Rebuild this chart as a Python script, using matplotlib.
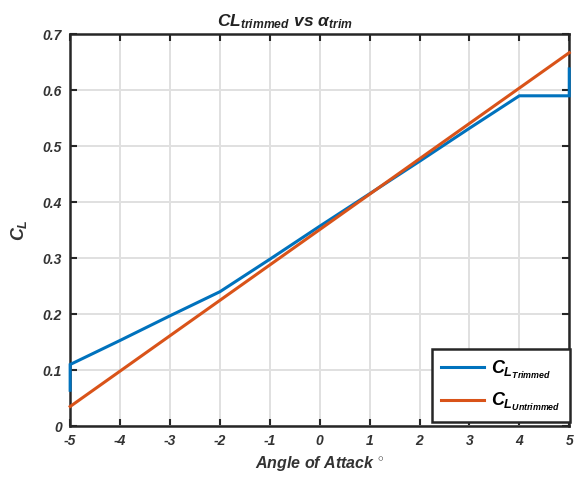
import matplotlib
matplotlib.use("Agg")
import matplotlib.pyplot as plt

alpha_trim = [-5, -5, -4, -3, -2, -1, 0, 1, 2, 3, 4, 5, 5]
cl_trimmed = [0.064, 0.110, 0.153, 0.197, 0.240, 0.298, 0.357, 0.415, 0.473, 0.532, 0.590, 0.590, 0.638]
alpha_untrim = [-5, 5]
cl_untrimmed = [0.035, 0.667]

plt.rcParams['font.family'] = ['Liberation Sans', 'DejaVu Sans']
plt.rcParams['axes.unicode_minus'] = False
plt.rcParams['mathtext.fontset'] = 'custom'
plt.rcParams['mathtext.rm'] = 'Liberation Sans:bold:italic'
plt.rcParams['mathtext.it'] = 'Liberation Sans:bold:italic'

fig = plt.figure(figsize=(5.75, 4.82), dpi=100)
ax = fig.add_axes([0.122, 0.116, 0.868, 0.813])

ax.plot(alpha_trim, cl_trimmed, color='#0072BD', lw=2.2, label=r'$C_{L_{Trimmed}}$',
        solid_joinstyle='miter', clip_on=False, zorder=3)
ax.plot(alpha_untrim, cl_untrimmed, color='#D95319', lw=2.2, label=r'$C_{L_{Untrimmed}}$',
        clip_on=False, zorder=3)

ax.set_xlim(-5, 5)
ax.set_ylim(0, 0.7)
ax.set_xticks(range(-5, 6))
ax.set_yticks([0, 0.1, 0.2, 0.3, 0.4, 0.5, 0.6, 0.7])
ax.set_yticklabels(['0', '0.1', '0.2', '0.3', '0.4', '0.5', '0.6', '0.7'])
ax.grid(True, color='#e0e0e0', lw=1.4)
ax.set_axisbelow(True)
for s in ax.spines.values():
    s.set_linewidth(1.8)
    s.set_color('#262626')
ax.tick_params(direction='in', length=5, width=1.5, top=True, right=True, colors='#262626',
               labelsize=10, pad=6)
for lbl in ax.get_xticklabels() + ax.get_yticklabels():
    lbl.set_fontweight('bold')
    lbl.set_fontstyle('italic')
    lbl.set_color('#333333')

ax.set_xlabel(r'Angle of Attack $^{\circ}$', fontsize=11.5, fontweight='bold', fontstyle='italic', color='#333333')
ax.set_ylabel(r'$C_L$', fontsize=13, color='#333333', labelpad=10)
ax.set_title(r'$CL_{trimmed}$ vs $\alpha_{trim}$', fontsize=12.5, fontweight='bold', fontstyle='italic',
             color='#222222', pad=6, x=0.43)

leg = ax.legend(loc='lower right', fontsize=13, frameon=True, fancybox=False,
                edgecolor='#262626', borderaxespad=0.2, handlelength=2.4, handletextpad=0.4,
                labelspacing=0.6, borderpad=0.5, framealpha=1, bbox_to_anchor=(1.008, 0.0))
leg.get_frame().set_linewidth(1.8)
leg.set_zorder(5)

fig.savefig('out.png', dpi=100)
